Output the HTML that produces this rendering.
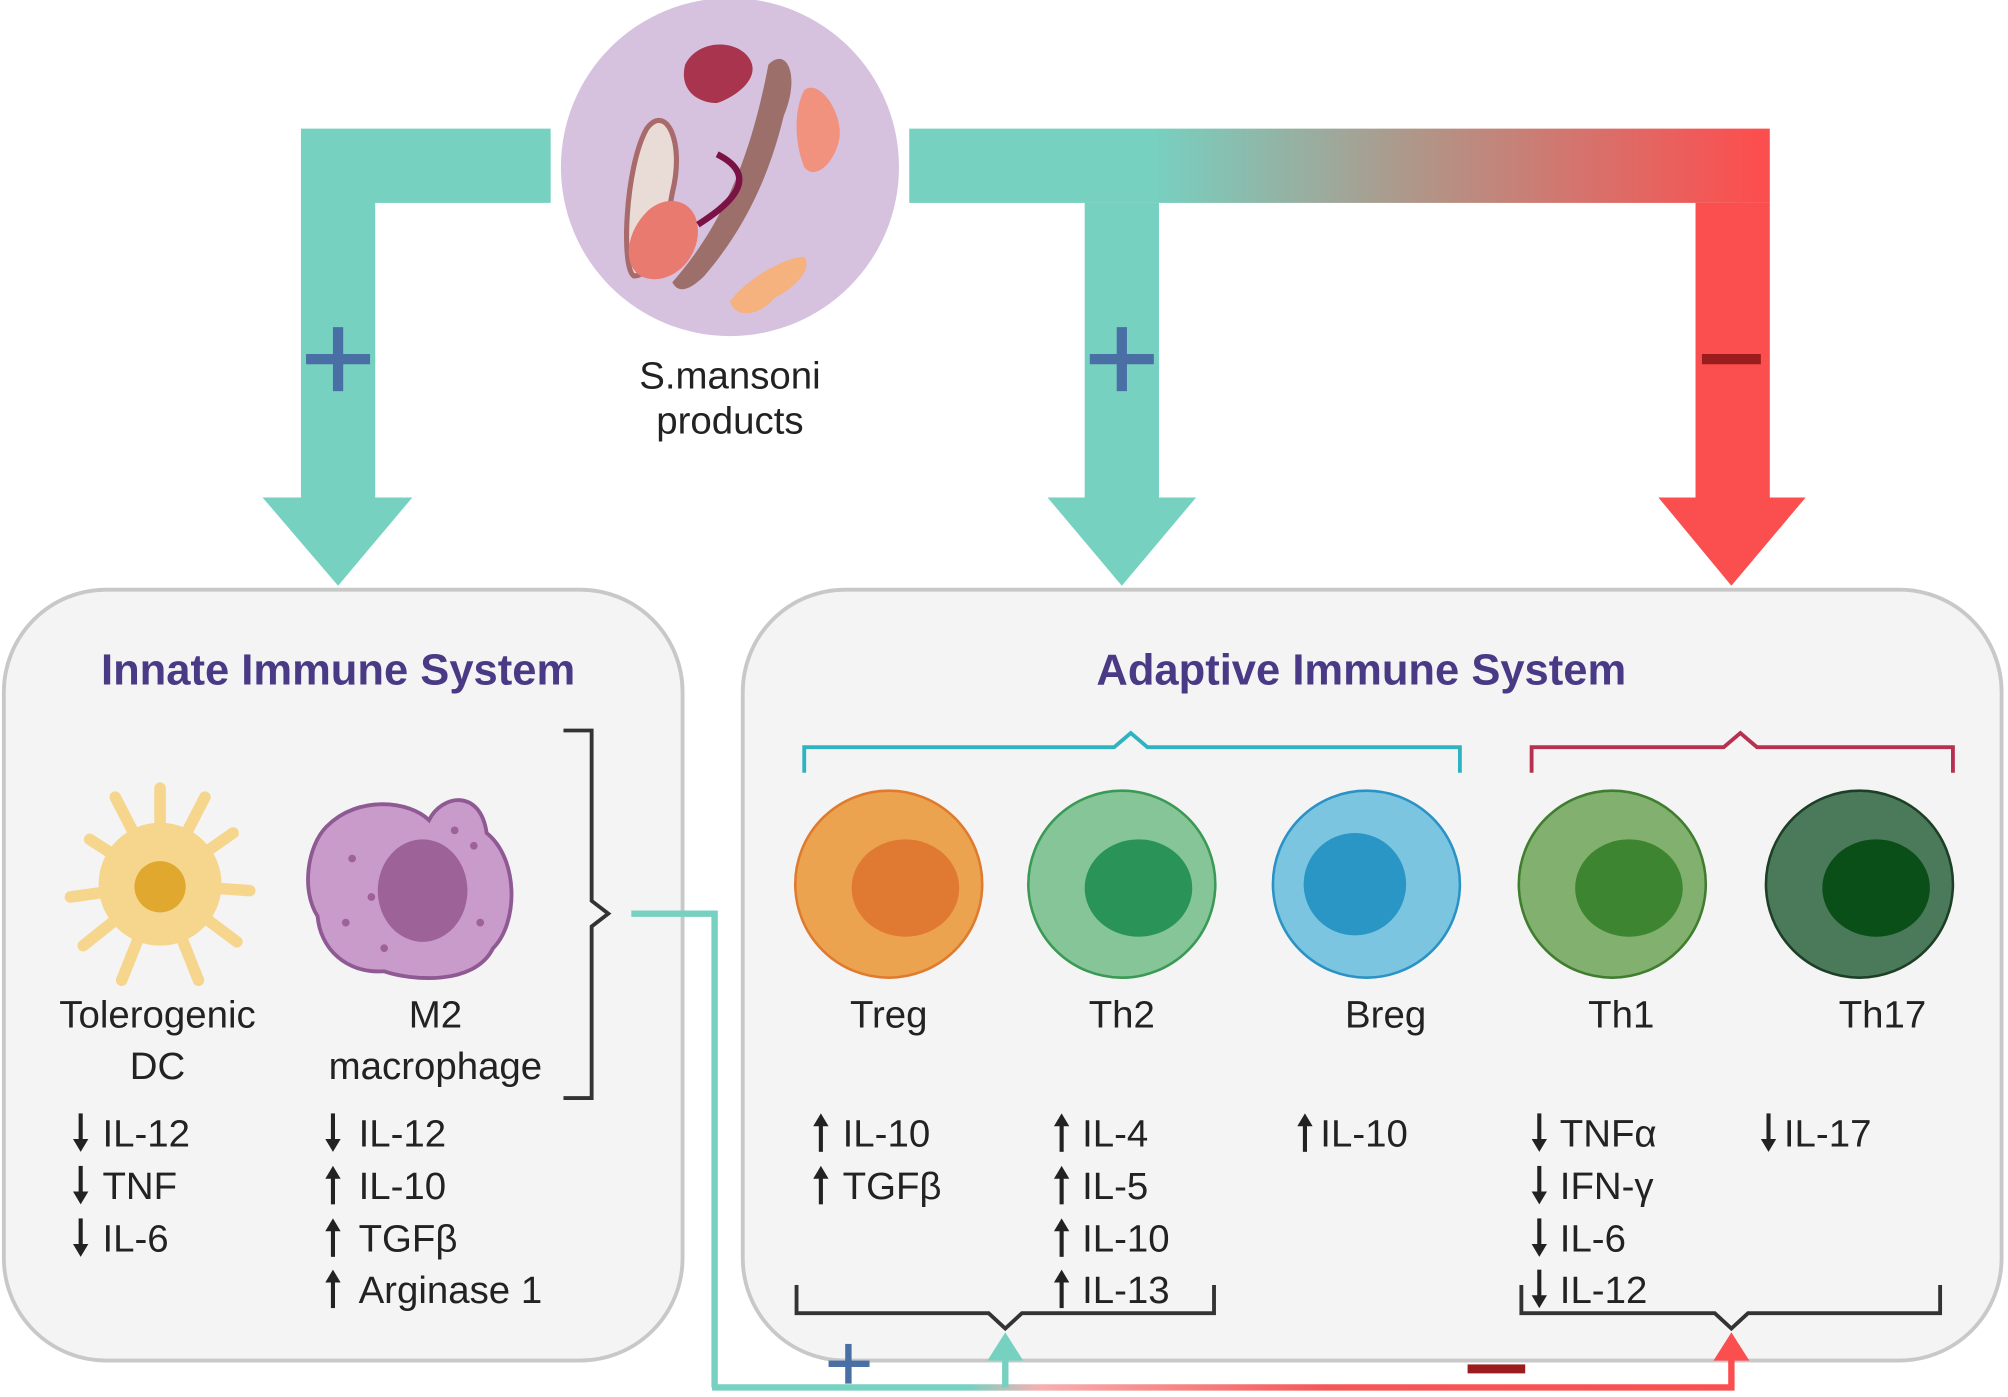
<!DOCTYPE html>
<html><head><meta charset="utf-8"><style>
html,body{margin:0;padding:0;background:#fff;}
svg{display:block;}
text{font-family:"Liberation Sans",sans-serif;}
</style></head><body>
<svg width="2008" height="1397" viewBox="0 0 1568 1090" xmlns="http://www.w3.org/2000/svg">
<defs>
<linearGradient id="tg" x1="710" y1="0" x2="1382" y2="0" gradientUnits="userSpaceOnUse">
<stop offset="0.28" stop-color="#76d1c1"/><stop offset="0.6" stop-color="#b29487"/><stop offset="0.98" stop-color="#fb4f4f"/></linearGradient>
<linearGradient id="bg" x1="558" y1="0" x2="1352" y2="0" gradientUnits="userSpaceOnUse">
<stop offset="0.25" stop-color="#76d1c1"/><stop offset="0.32" stop-color="#f7b0b0"/><stop offset="0.6" stop-color="#f55757"/><stop offset="1" stop-color="#fb4f4f"/></linearGradient>
<g id="up"><rect x="-1.6" y="-8" width="3.2" height="23" fill="#222"/><path d="M-6 -5 L0 -15 L6 -5Z" fill="#222"/></g>
<g id="dn"><rect x="-1.6" y="-15" width="3.2" height="23" fill="#222"/><path d="M-6 5 L0 15 L6 5Z" fill="#222"/></g>
</defs>
<rect width="1568" height="1090" fill="#fff"/>
<rect x="3" y="460" width="530" height="602" rx="80" fill="#f4f4f4" stroke="#c8c8c8" stroke-width="3"/>
<rect x="580" y="460" width="983" height="602" rx="80" fill="#f4f4f4" stroke="#c8c8c8" stroke-width="3"/>
<path d="M430 100 H235 V388 H205 L264 457 L322 388 H293 V158 H430 Z" fill="#76d1c1"/>
<rect x="710" y="100" width="672" height="58" fill="url(#tg)"/>
<path d="M847 158 H905 V388 H934 L876 457 L818 388 H847 Z" fill="#76d1c1"/>
<path d="M1324 158 H1382 V388 H1410 L1352 457 L1295 388 H1324 Z" fill="#fb4f4f"/>
<g fill="#4a6fa5"><rect x="239" y="276" width="50" height="8"/><rect x="260" y="255" width="8" height="50"/>
<rect x="851" y="276" width="50" height="8"/><rect x="872" y="255" width="8" height="50"/></g>
<rect x="1329" y="276" width="46" height="8" fill="#9b1c1c"/>
<circle cx="570" cy="130" r="132" fill="#d6c2df"/>
<path d="M505 100 C520 80 535 110 525 150 C518 190 510 215 495 215 C485 210 488 130 505 100Z" fill="#e9dcd6" stroke="#a86a6a" stroke-width="4"/>
<path d="M535 50 C545 30 575 30 585 45 C595 60 575 75 560 80 C545 80 530 70 535 50Z" fill="#a8344d"/>
<path d="M600 50 C615 35 625 60 612 90 C600 140 580 180 550 215 C540 225 530 230 525 220 C560 180 585 130 600 50Z" fill="#9c6f6a"/>
<path d="M628 70 C640 60 660 90 655 110 C650 130 635 140 628 130 C620 110 620 85 628 70Z" fill="#f0927e"/>
<path d="M505 165 C520 150 545 155 545 180 C545 205 520 225 500 215 C485 205 490 180 505 165Z" fill="#e87a6f"/>
<path d="M570 235 C585 215 615 200 628 200 C635 210 620 225 605 232 C595 245 575 250 570 235Z" fill="#f5b17e"/>
<path d="M560 120 C600 140 560 165 545 175" fill="none" stroke="#7a1245" stroke-width="5"/>
<text x="570" y="303" font-size="30" text-anchor="middle" fill="#222">S.mansoni</text>
<text x="570" y="338" font-size="30" text-anchor="middle" fill="#222">products</text>
<text x="264" y="534" font-size="34" font-weight="bold" text-anchor="middle" fill="#4a3a85">Innate Immune System</text>
<text x="1063" y="534" font-size="34" font-weight="bold" text-anchor="middle" fill="#4a3a85">Adaptive Immune System</text>
<g stroke="#f6d58c" stroke-width="9" stroke-linecap="round" fill="none">
<path d="M125 690 L125 615 M125 690 L90 622 M125 690 L160 622 M125 690 L70 655 M125 690 L182 650 M125 690 L55 700 M125 690 L195 695 M125 690 L65 738 M125 690 L185 735 M125 690 L95 765 M125 690 L155 765"/></g>
<circle cx="125" cy="690" r="48" fill="#f6d58c"/>
<circle cx="125" cy="692" r="20" fill="#e0a82e"/>
<path d="M255 645 C280 620 320 625 335 640 C345 620 375 615 380 650 C405 670 405 720 385 740 C370 770 320 765 300 758 C270 760 250 740 248 715 C235 695 240 660 255 645Z" fill="#c99bcb" stroke="#8f5a93" stroke-width="3"/>
<ellipse cx="330" cy="695" rx="35" ry="40" fill="#9d6298"/>
<g fill="#9d6298"><circle cx="275" cy="670" r="3"/><circle cx="290" cy="700" r="3"/><circle cx="370" cy="660" r="3"/><circle cx="375" cy="720" r="3"/><circle cx="300" cy="740" r="3"/><circle cx="270" cy="720" r="3"/><circle cx="355" cy="648" r="3"/></g>
<g font-size="30" fill="#222" text-anchor="middle">
<text x="123" y="802">Tolerogenic</text><text x="123" y="842">DC</text>
<text x="340" y="802">M2</text><text x="340" y="842">macrophage</text>
<text x="694" y="802">Treg</text><text x="876" y="802">Th2</text><text x="1082" y="802">Breg</text>
<text x="1266" y="802">Th1</text><text x="1470" y="802">Th17</text>
</g>
<path d="M440 570 H462 V703 L475 713 L462 723 V857 H440" fill="none" stroke="#333" stroke-width="3"/>
<circle cx="694" cy="690" r="73" fill="#eba34f" stroke="#e07b2e" stroke-width="2"/><ellipse cx="707" cy="693" rx="42" ry="38" fill="#e07a33"/>
<circle cx="876" cy="690" r="73" fill="#86c597" stroke="#3a9a55" stroke-width="2"/><ellipse cx="889" cy="693" rx="42" ry="38" fill="#2a9458"/>
<circle cx="1067" cy="690" r="73" fill="#7cc5e0" stroke="#2a92c4" stroke-width="2"/><ellipse cx="1058" cy="690" rx="40" ry="40" fill="#2996c5"/>
<circle cx="1259" cy="690" r="73" fill="#82b06e" stroke="#3f7d2f" stroke-width="2"/><ellipse cx="1272" cy="693" rx="42" ry="38" fill="#3e8531"/>
<circle cx="1452" cy="690" r="73" fill="#4a7a5a" stroke="#1d3f26" stroke-width="2"/><ellipse cx="1465" cy="693" rx="42" ry="38" fill="#0a4f18"/>
<path d="M628 603 V583 H870 L883 572 L896 583 H1140 V603" fill="none" stroke="#2fb3c0" stroke-width="3"/>
<path d="M1196 603 V583 H1346 L1359 572 L1372 583 H1525 V603" fill="none" stroke="#b8304f" stroke-width="3"/>
<!-- arrows -->
<use href="#dn" x="63" y="884"/><use href="#dn" x="63" y="925"/><use href="#dn" x="63" y="966"/>
<use href="#dn" x="260" y="884"/><use href="#up" x="260" y="925"/><use href="#up" x="260" y="966"/><use href="#up" x="260" y="1006"/>
<use href="#up" x="641" y="884"/><use href="#up" x="641" y="925"/>
<use href="#up" x="829" y="884"/><use href="#up" x="829" y="925"/><use href="#up" x="829" y="966"/><use href="#up" x="829" y="1006"/>
<use href="#up" x="1019" y="884"/>
<use href="#dn" x="1202" y="884"/><use href="#dn" x="1202" y="925"/><use href="#dn" x="1202" y="966"/><use href="#dn" x="1202" y="1006"/>
<use href="#dn" x="1381" y="884"/>
<g font-size="30" fill="#222">
<text x="80" y="895">IL-12</text><text x="80" y="936">TNF</text><text x="80" y="977">IL-6</text>
<text x="280" y="895">IL-12</text><text x="280" y="936">IL-10</text><text x="280" y="977">TGFβ</text><text x="280" y="1017">Arginase 1</text>
<text x="658" y="895">IL-10</text><text x="658" y="936">TGFβ</text>
<text x="845" y="895">IL-4</text><text x="845" y="936">IL-5</text><text x="845" y="977">IL-10</text><text x="845" y="1017">IL-13</text>
<text x="1031" y="895">IL-10</text>
<text x="1218" y="895">TNFα</text><text x="1218" y="936">IFN-γ</text><text x="1218" y="977">IL-6</text><text x="1218" y="1017">IL-12</text>
<text x="1393" y="895">IL-17</text>
</g>
<path d="M622 1003 V1025 H772 L785 1037 L798 1025 H948 V1003" fill="none" stroke="#333" stroke-width="3"/>
<path d="M1188 1003 V1025 H1339 L1352 1037 L1365 1025 H1515 V1003" fill="none" stroke="#333" stroke-width="3"/>
<path d="M493 713 H558 V1083" fill="none" stroke="#76d1c1" stroke-width="5"/>
<path d="M556 1083 H1352 V1060" fill="none" stroke="url(#bg)" stroke-width="5"/>
<path d="M785 1083 V1060" fill="none" stroke="#76d1c1" stroke-width="5"/>
<path d="M771 1062 L785 1040 L799 1062Z" fill="#76d1c1"/>
<path d="M1338 1062 L1352 1040 L1366 1062Z" fill="#fb4f4f"/>
<g fill="#4a6fa5"><rect x="647" y="1062" width="32" height="5"/><rect x="660" y="1049" width="5" height="31"/></g>
<rect x="1146" y="1065" width="45" height="7" fill="#9b1c1c"/>
</svg>
</body></html>
